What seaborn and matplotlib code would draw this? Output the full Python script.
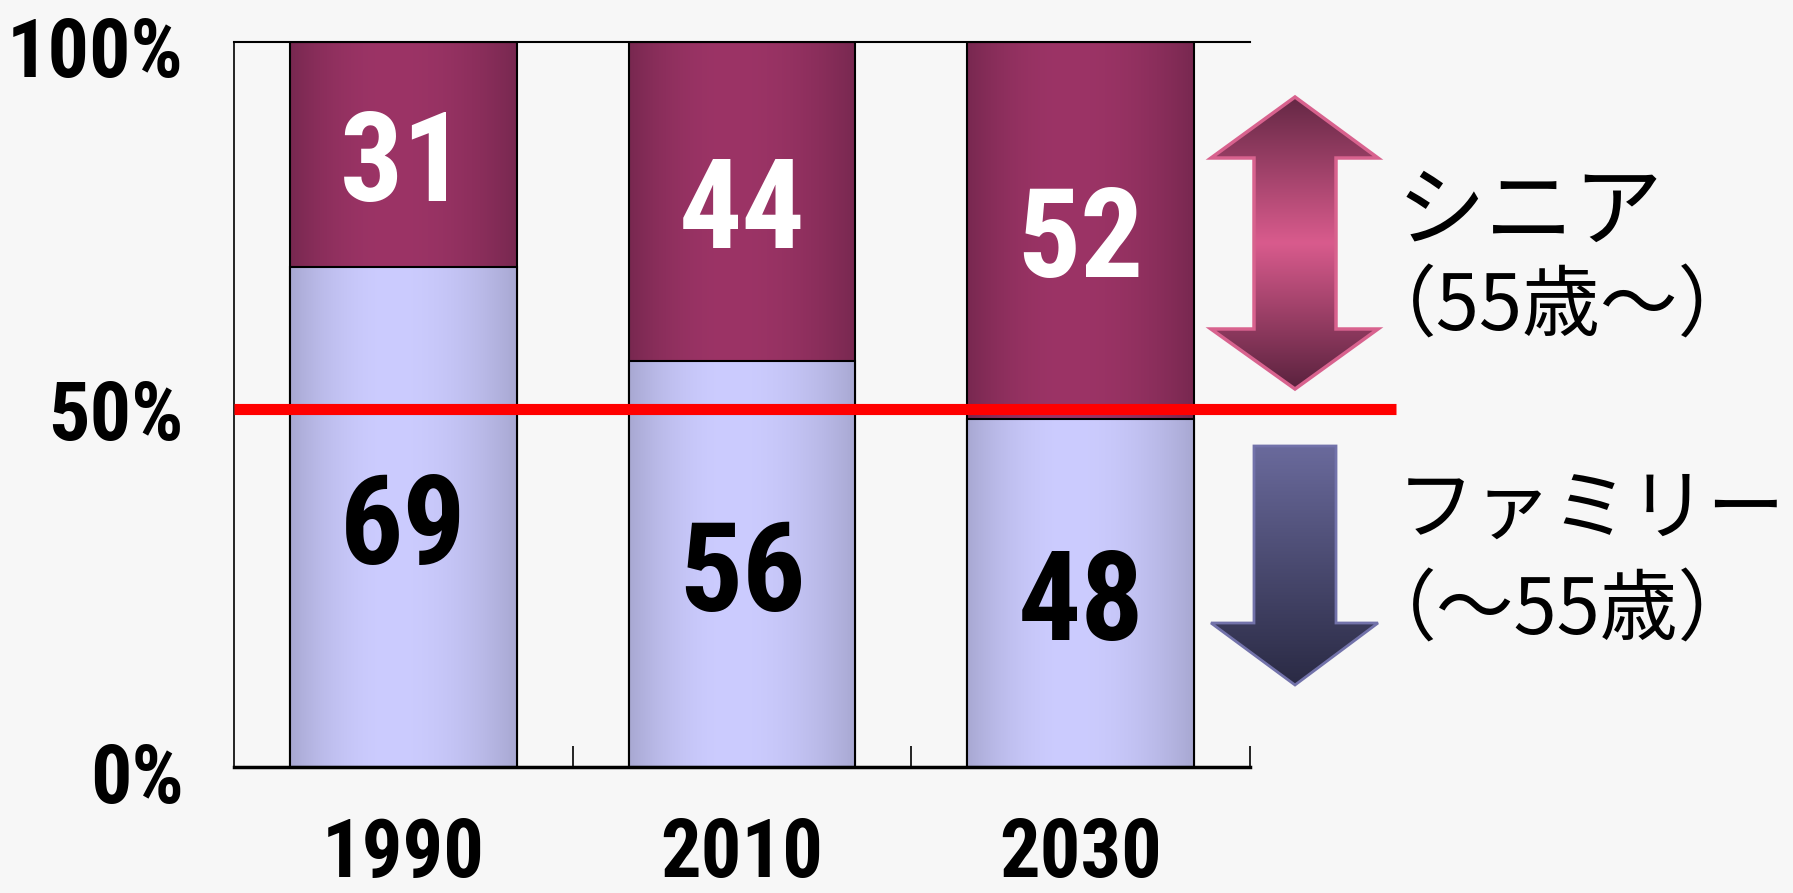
import matplotlib
matplotlib.use("Agg")
import numpy as np
import pandas as pd
import seaborn as sns
import matplotlib.pyplot as plt
from matplotlib import font_manager as fm
from matplotlib.patches import Polygon
from matplotlib.colors import to_rgb
from matplotlib.transforms import offset_copy, ScaledTranslation

# ---------------- data ----------------
years = ["1990", "2010", "2030"]
family = [69, 56, 48]
senior = [31, 44, 52]
ytick_vals = [0, 50, 100]
ytick_labels = ["0%", "50%", "100%"]
threshold = 50
senior_label = "シニア"
senior_sub = "（55歳～）"
family_label = "ファミリー"
family_sub = "（～55歳）"

# ---------------- style ----------------
sns.set_theme(style="white")
names = {f.name for f in fm.fontManager.ttflist}
cands = ["Roboto Condensed", "Archivo Narrow", "IBM Plex Sans Condensed",
         "Open Sans Condensed", "Liberation Sans"]
num_font = next(c for c in cands if c in names)
plt.rcParams["font.family"] = [num_font, "DejaVu Sans"]
cjk = ["Noto Sans CJK JP", "DejaVu Sans"]

BG = "#f7f7f7"
W, H = 1793, 893
fig = plt.figure(figsize=(W / 100, H / 100), dpi=100, facecolor=BG)
ax = fig.add_axes([234 / W, 1 - 767 / H, (1250 - 234) / W, (767 - 42) / H])
ax.set_facecolor(BG)

df = pd.DataFrame({"year": years, "family": family, "senior": senior})
df["total"] = df["family"] + df["senior"]

sns.barplot(data=df, x="year", y="total", color="#8c2f5c", width=0.67,
            saturation=1, edgecolor="black", linewidth=1.5, errorbar=None, ax=ax)
n_sen = len(ax.patches)
sns.barplot(data=df, x="year", y="family", color="#bcbcee", width=0.67,
            saturation=1, edgecolor="black", linewidth=1.5, errorbar=None, ax=ax)


def hgrad(edge, center, n=256, peak=0.45):
    t = np.linspace(0, 1, n)
    d = np.where(t < peak, (peak - t) / peak, (t - peak) / (1 - peak))
    f = np.clip(1 - d ** 2, 0, 1)
    e, c = np.array(to_rgb(edge)), np.array(to_rgb(center))
    return (e[None, :] + (c - e)[None, :] * f[:, None])[None, :, :]


sen_grad = hgrad("#782850", "#9c3466")
fam_grad = hgrad("#a8a8d2", "#ccccff")

for i, p in enumerate(ax.patches):
    x0, y0, w, h = p.get_x(), p.get_y(), p.get_width(), p.get_height()
    is_sen = i < n_sen
    z = 2.1 if is_sen else 2.3
    ax.imshow(sen_grad if is_sen else fam_grad, extent=[x0, x0 + w, y0, y0 + h],
              aspect="auto", zorder=z, interpolation="bilinear")
    p.set_facecolor("none")
    p.set_zorder(z + 0.05)

ax.set_xlim(-0.5, 2.5)
ax.set_ylim(0, 100)

lab_tr = offset_copy(ax.transData, fig=fig, x=0, y=-13, units="dots")
for i in range(len(years)):
    ax.text(i, family[i] / 2, str(family[i]), ha="center", va="center", transform=lab_tr,
            fontsize=90, fontweight="bold", color="black", zorder=6)
    ax.text(i, family[i] + senior[i] / 2, str(senior[i]), ha="center", va="center",
            transform=lab_tr, fontsize=90, fontweight="bold", color="white", zorder=6)

# threshold line
line_tr = offset_copy(ax.transData, fig=fig, x=0, y=-4, units="dots")
ax.plot([-0.5, 2.93], [threshold, threshold], color="#ff0000", lw=8, transform=line_tr,
        clip_on=False, zorder=7, solid_capstyle="butt")

# spines / ticks
ax.spines["right"].set_visible(False)
ax.spines["left"].set_linewidth(1.2)
ax.spines["top"].set_linewidth(1.5)
ax.spines["bottom"].set_linewidth(2.5)
for s in ("left", "top", "bottom"):
    ax.spines[s].set_color("black")

ax.set_yticks(ytick_vals, ytick_labels)
ax.tick_params(axis="y", length=0, pad=36, labelsize=59, labelcolor="black")
ax.set_xticks(range(len(years)), years)
ax.tick_params(axis="x", which="major", length=0, pad=35, labelsize=58, labelcolor="black")
ax.set_xticks([0.5, 1.5, 2.5], minor=True)
ax.tick_params(axis="x", which="minor", direction="in", length=15, width=1.2,
               color="black", bottom=True)
for lab in ax.get_xticklabels() + ax.get_yticklabels():
    lab.set_fontweight("bold")
shift = ScaledTranslation(0, -5 / 100, fig.dpi_scale_trans)
for lab in ax.get_yticklabels():
    lab.set_transform(lab.get_transform() + shift)
ax.set_xlabel("")
ax.set_ylabel("")

# ---------------- overlay for arrows & legend text ----------------
ov = fig.add_axes([0, 0, 1, 1])
ov.patch.set_alpha(0)
ov.axis("off")


def vgrad(stops, n=256):
    t = np.linspace(0, 1, n)
    pos = [s[0] for s in stops]
    cols = np.array([to_rgb(s[1]) for s in stops])
    arr = np.stack([np.interp(t, pos, cols[:, k]) for k in range(3)], axis=1)
    return arr[:, None, :]


dbl = [(1295, 97), (1378, 158), (1336, 158), (1336, 329), (1378, 329), (1295, 389),
       (1211, 329), (1254, 329), (1254, 158), (1211, 158)]
poly1 = Polygon(dbl, closed=True, facecolor="none", edgecolor="#d8628e", lw=2.5, zorder=3)
ov.add_patch(poly1)
im1 = ov.imshow(vgrad([(0, "#652845"), (0.5, "#d95b8d"), (1, "#5a223e")]),
                extent=[1211, 1378, 389, 97], aspect="auto", zorder=2, interpolation="bilinear")
im1.set_clip_path(poly1)

down = [(1254, 446), (1336, 446), (1336, 623), (1378, 623), (1295, 685), (1211, 623), (1254, 623)]
poly2 = Polygon(down, closed=True, facecolor="none", edgecolor="#7272aa", lw=2, zorder=3)
ov.add_patch(poly2)
im2 = ov.imshow(vgrad([(0, "#6a6a9c"), (1, "#2a2a44")]),
                extent=[1211, 1378, 685, 446], aspect="auto", zorder=2, interpolation="bilinear")
im2.set_clip_path(poly2)

ov.set_xlim(0, W)
ov.set_ylim(H, 0)

ov.text(1397, 214, senior_label, fontsize=64, va="center", ha="left", family=cjk, color="black")
ov.text(1359, 309, senior_sub, fontsize=56, va="center", ha="left", family=cjk, color="black")
ov.text(1397, 511, family_label, fontsize=56, va="center", ha="left", family=cjk, color="black")
ov.text(1359, 613, family_sub, fontsize=56, va="center", ha="left", family=cjk, color="black")

fig.savefig("out.png", dpi=100, facecolor=BG)
